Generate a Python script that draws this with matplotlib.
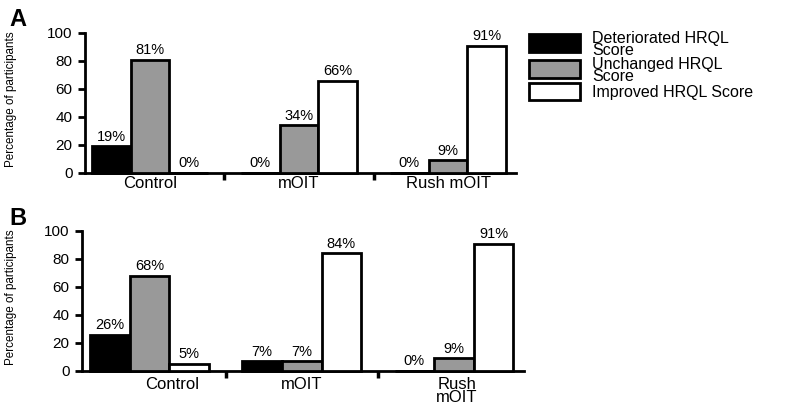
import matplotlib
matplotlib.use("Agg")
import matplotlib.pyplot as plt
import numpy as np
from matplotlib.patches import Rectangle
from matplotlib import font_manager

plt.rcParams['font.family'] = ['Liberation Sans', 'DejaVu Sans']

groups = ["Control", "mOIT", "Rush mOIT"]
groups_b = ["Control", "mOIT", "Rush\nmOIT"]
series = ["Deteriorated HRQL\nScore", "Unchanged HRQL\nScore", "Improved HRQL Score"]
panel_a = {
    "Deteriorated": [19, 0, 0],
    "Unchanged": [81, 34, 9],
    "Improved": [0, 66, 91],
}
panel_b = {
    "Deteriorated": [26, 7, 0],
    "Unchanged": [68, 7, 9],
    "Improved": [5, 84, 91],
}
yticks = [0, 20, 40, 60, 80, 100]

colors = ["black", "#999999", "white"]
W = 0.26

names = {f.name for f in font_manager.fontManager.ttflist}
narrow = 'Liberation Sans Narrow' if 'Liberation Sans Narrow' in names else None
ylab_font = [narrow, 'Liberation Sans'] if narrow else ['Liberation Sans']
ylab_size = 10 if narrow else 8.4

FW, FH = 796, 405
fig = plt.figure(figsize=(FW/100, FH/100), dpi=100)
axA = fig.add_axes([85/FW, 1-173/FH, (516-85)/FW, 140/FH])
axB = fig.add_axes([82/FW, 1-371/FH, (524-82)/FW, 140/FH])


def draw(ax, data, labels, xlim, label_shift, label_y, ylab_x):
    x = np.arange(len(groups))
    for i, (key, vals) in enumerate(data.items()):
        pos = x + (i - 1) * W
        ax.bar(pos, vals, W, color=colors[i], edgecolor="black", linewidth=2,
               zorder=3, clip_on=False)
        for p, v in zip(pos, vals):
            ax.text(p, v + 1.8, f"{v}%", ha="center", va="bottom", fontsize=10.5)
    ax.set_xlim(*xlim)
    ax.set_ylim(0, 100)
    ax.set_yticks(yticks)
    ax.tick_params(axis="y", labelsize=11, width=2, length=5, pad=4)
    ax.set_xticks([0.5, 1.5])
    ax.set_xticklabels([])
    ax.tick_params(axis="x", width=2.5, length=5)
    for xi, lab, sh in zip(x, labels, label_shift):
        ax.text(xi + sh, label_y, lab, ha="center", va="top", fontsize=12,
                linespacing=0.85)
    for s in ["top", "right"]:
        ax.spines[s].set_visible(False)
    for s in ["left", "bottom"]:
        ax.spines[s].set_linewidth(2)
    ax.set_ylabel("Percentage of participants", fontsize=ylab_size,
                  family=ylab_font)
    ax.yaxis.set_label_coords(ylab_x, 0.53)


draw(axA, panel_a, groups, (-0.436, 2.456), [0, 0, 0], -2.5, (17-85)/431)
draw(axB, panel_b, groups_b, (-0.444, 2.46), [0.15, 0, 0.02], -4.5, (17-82)/442)

fig.text(9/FW, 1-26/FH, "A", fontsize=17, fontweight="bold", va="baseline")
fig.text(9/FW, 1-225/FH, "B", fontsize=17, fontweight="bold", va="baseline")

# legend (manual, figure pixel coords)
patch_y = [(34, 52), (60, 78), (83, 100)]
for c, (y0, y1), lab in zip(colors, patch_y, series):
    fig.add_artist(Rectangle((529/FW, 1-y1/FH), (580-529)/FW, (y1-y0)/FH,
                             transform=fig.transFigure, facecolor=c,
                             edgecolor="black", linewidth=2))
    yc = (y0 + y1) / 2 + (1.5 if "\n" in lab else 0.5)
    fig.text(592/FW, 1-yc/FH, lab, fontsize=11.5, va="center", ha="left",
             linespacing=0.78)

fig.savefig("out.png", dpi=100)
